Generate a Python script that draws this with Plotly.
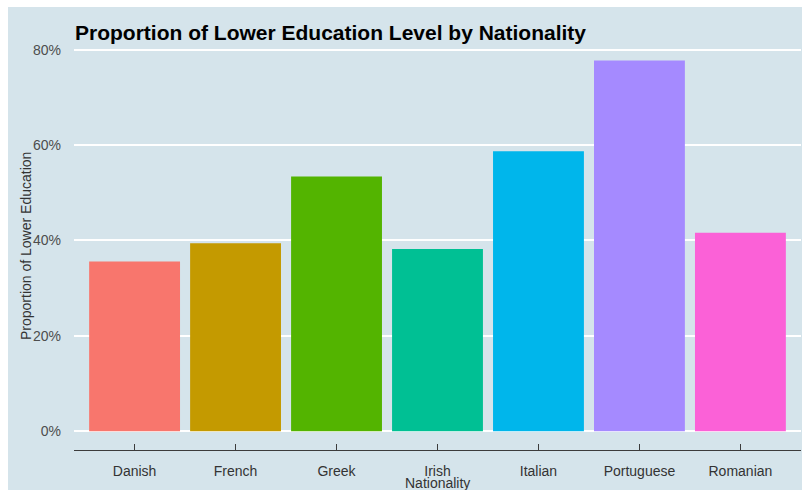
import plotly.graph_objects as go

categories = ["Danish", "French", "Greek", "Irish", "Italian", "Portuguese", "Romanian"]
values = [35.6, 39.4, 53.4, 38.2, 58.7, 77.7, 41.6]
colors = ["#F8766D", "#C49A00", "#53B400", "#00C094", "#00B6EB", "#A58AFF", "#FB61D7"]
y_ticks = [0, 20, 40, 60, 80]
y_tick_labels = ["0%", "20%", "40%", "60%", "80%"]

BG = "#D5E4EB"
FONT = "Liberation Sans, Arial, sans-serif"

W, H = 802, 490
ML, MR, MT, MB = 74, 1, 42, 40
PW, PH = W - ML - MR, H - MT - MB

fig = go.Figure()
fig.add_trace(go.Bar(
    x=categories, y=values,
    marker=dict(color=colors, line=dict(width=0)),
    showlegend=False,
))

def px_x(p):
    return (p - ML) / PW

def px_y(p):
    return (H - MB - p) / PH

fig.update_layout(
    width=W, height=H,
    margin=dict(l=ML, r=MR, t=MT, b=MB, pad=0),
    paper_bgcolor="white",
    plot_bgcolor=BG,
    bargap=0.1,
    font=dict(family=FONT, size=14, color="#333333"),
    title=dict(
        text="<b>Proportion of Lower Education Level by Nationality</b>",
        font=dict(family=FONT, size=21, color="black"),
        x=px_x(75), xanchor="left", xref="paper",
        y=1 - 33 / H, yanchor="middle",
    ),
    shapes=[dict(
        type="rect", xref="paper", yref="paper", layer="below",
        x0=px_x(8), x1=px_x(W + 5), y0=px_y(H + 5), y1=px_y(7),
        fillcolor=BG, line=dict(width=0),
    )],
    annotations=[
        dict(text="Nationality", xref="paper", yref="paper",
             x=0.5, y=px_y(483), xanchor="center", yanchor="middle",
             showarrow=False, font=dict(family=FONT, size=14, color="#333333")),
        dict(text="Proportion of Lower Education", xref="paper", yref="paper",
             x=px_x(26), y=0.5, xanchor="center", yanchor="middle", textangle=-90,
             showarrow=False, font=dict(family=FONT, size=14, color="#333333")),
    ],
    xaxis=dict(
        range=[-0.6, 6.6],
        showgrid=False, zeroline=False,
        showline=True, linecolor="#3c3c3c", linewidth=1.2,
        ticks="inside", ticklen=6, tickwidth=1.2, tickcolor="#3c3c3c",
        tickfont=dict(family=FONT, size=14, color="#333333"),
        ticklabelstandoff=8,
        automargin=False,
        fixedrange=True,
    ),
    yaxis=dict(
        range=[-3.95, 81.6],
        tickvals=y_ticks, ticktext=y_tick_labels,
        showgrid=True, gridcolor="white", gridwidth=2,
        zeroline=False, showline=False, ticks="",
        tickfont=dict(family=FONT, size=14, color="#4d4d4d"),
        ticklabelstandoff=12,
        automargin=False,
        fixedrange=True,
    ),
)

fig.write_html("out.html")
